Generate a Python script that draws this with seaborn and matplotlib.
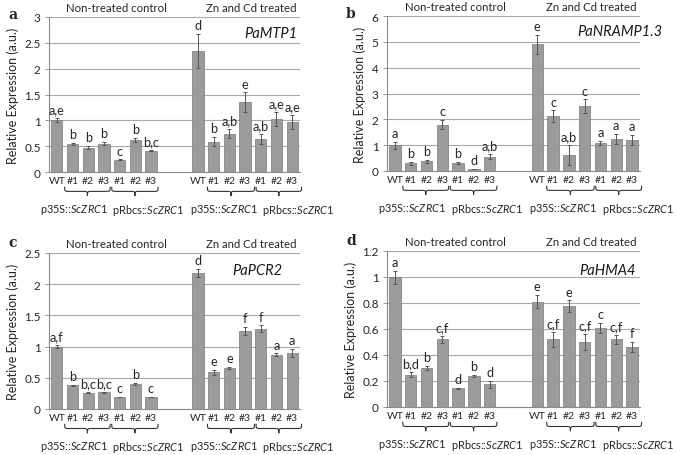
import numpy as np
import pandas as pd
import matplotlib
matplotlib.use("Agg")
import matplotlib.pyplot as plt
import matplotlib.transforms as mtransforms
from matplotlib.path import Path
from matplotlib.patches import PathPatch
import seaborn as sns

# sample keys (two empty slots separate the two treatments)
ctrl_keys = ["ctrl WT", "ctrl 35S #1", "ctrl 35S #2", "ctrl 35S #3",
             "ctrl Rbcs #1", "ctrl Rbcs #2", "ctrl Rbcs #3"]
trt_keys = ["trt WT", "trt 35S #1", "trt 35S #2", "trt 35S #3",
            "trt Rbcs #1", "trt Rbcs #2", "trt Rbcs #3"]
order = ctrl_keys + ["gap 1", "gap 2"] + trt_keys
line_labels = ["WT", "#1", "#2", "#3", "#1", "#2", "#3"]
tick_labels = line_labels + ["", ""] + line_labels
group_labels = [r"p35S::$\it{ScZRC1}$", r"pRbcs::$\it{ScZRC1}$",
                r"p35S::$\it{ScZRC1}$", r"pRbcs::$\it{ScZRC1}$"]

# panel a - PaMTP1
mtp1_mean = [1.0, 0.55, 0.47, 0.55, 0.24, 0.62, 0.41,
             2.35, 0.59, 0.74, 1.35, 0.64, 1.03, 0.97]
mtp1_err = [0.04, 0.02, 0.03, 0.03, 0.005, 0.04, 0.01,
            0.33, 0.09, 0.09, 0.19, 0.09, 0.14, 0.13]
mtp1_letters = ["a,e", "b", "b", "b", "c", "b", "b,c",
                "d", "b", "a,b", "e", "a,b", "a,e", "a,e"]

# panel b - PaNRAMP1.3
nramp_mean = [1.0, 0.3, 0.38, 1.8, 0.32, 0.08, 0.55,
              4.9, 2.12, 0.62, 2.5, 1.08, 1.23, 1.2]
nramp_err = [0.13, 0.05, 0.06, 0.18, 0.03, 0.01, 0.1,
             0.38, 0.23, 0.37, 0.27, 0.08, 0.2, 0.2]
nramp_letters = ["a", "b", "b", "c", "b", "d", "a,b",
                 "e", "c", "a,b", "c", "a", "a", "a"]

# panel c - PaPCR2
pcr2_mean = [1.0, 0.38, 0.26, 0.27, 0.19, 0.40, 0.19,
             2.18, 0.59, 0.66, 1.25, 1.29, 0.87, 0.9]
pcr2_err = [0.03, 0.01, 0.01, 0.01, 0.005, 0.02, 0.005,
            0.06, 0.04, 0.02, 0.06, 0.05, 0.02, 0.06]
pcr2_letters = ["a,f", "b", "b,c", "b,c", "c", "b", "c",
                "d", "e", "e", "f", "f", "a", "a"]

# panel d - PaHMA4
hma4_mean = [1.0, 0.25, 0.30, 0.52, 0.145, 0.24, 0.175,
             0.81, 0.52, 0.775, 0.50, 0.61, 0.52, 0.46]
hma4_err = [0.05, 0.02, 0.015, 0.025, 0.005, 0.01, 0.025,
            0.05, 0.06, 0.045, 0.06, 0.04, 0.035, 0.04]
hma4_letters = ["a", "b,d", "b", "c,f", "d", "b", "d",
                "e", "c,f", "e", "c,f", "c", "c,f", "f"]

sns.set_style("white")
plt.rcParams["font.family"] = ["Lato", "DejaVu Sans"]
plt.rcParams["mathtext.fontset"] = "custom"
plt.rcParams["mathtext.rm"] = "Lato"
plt.rcParams["mathtext.it"] = "Lato:italic"

bar_color = "#9b9b9b"
edge_color = "#7a7a7a"
text_color = "#262626"

fig = plt.figure(figsize=(6.76, 4.56), dpi=100)


def brace(ax, x0, x1, y_top=-0.095, y_bot=-0.155):
    trans = mtransforms.blended_transform_factory(ax.transData, ax.transAxes)
    xm = (x0 + x1) / 2
    ym = (y_top + y_bot) / 2
    r = 0.3
    verts = [(x0, y_top), (x0, ym), (x0, ym), (x0 + r, ym),
             (xm - r, ym), (xm, ym), (xm, ym), (xm, y_bot),
             (xm, ym), (xm, ym), (xm + r, ym),
             (x1 - r, ym), (x1, ym), (x1, ym), (x1, y_top)]
    codes = [Path.MOVETO, Path.CURVE4, Path.CURVE4, Path.CURVE4,
             Path.LINETO, Path.CURVE4, Path.CURVE4, Path.CURVE4,
             Path.CURVE4, Path.CURVE4, Path.CURVE4,
             Path.LINETO, Path.CURVE4, Path.CURVE4, Path.CURVE4]
    ax.add_patch(PathPatch(Path(verts, codes), transform=trans, fill=False,
                           edgecolor="#333333", lw=0.8, clip_on=False))


def panel(rect, mean, err, letters, ymax, ystep, gene, gene_pos, tag, tag_pos):
    ax = fig.add_axes(rect)
    keys = ctrl_keys + trt_keys
    df = pd.DataFrame({"sample": keys, "expr": mean})
    sns.barplot(data=df, x="sample", y="expr", order=order, color=bar_color,
                saturation=1, width=0.72, errorbar=None, edgecolor=edge_color,
                linewidth=0.5, ax=ax, zorder=3)
    xpos = [order.index(k) for k in keys]
    ax.errorbar(xpos, mean, yerr=err, fmt="none", ecolor="#555555",
                elinewidth=0.7, capsize=1.6, capthick=0.7, zorder=4)
    for x, m, e, lab in zip(xpos, mean, err, letters):
        ax.annotate(lab, (x, m + e), xytext=(0, 2), textcoords="offset points",
                    ha="center", va="bottom", fontsize=9.2, color=text_color)
    ax.set_xlim(-0.5, 15.5)
    ax.set_ylim(0, ymax)
    ticks = np.arange(0, ymax + ystep / 2, ystep)
    ax.set_yticks(ticks)
    ax.set_yticklabels([f"{t:g}" for t in ticks], fontsize=8.5, color=text_color)
    ax.set_xticks(range(len(order)))
    ax.set_xticklabels(tick_labels, fontsize=7.5, color=text_color)
    ax.tick_params(axis="x", length=0, pad=3)
    ax.tick_params(axis="y", length=3, width=0.6, color="#888888", pad=3,
                   left=True)
    ax.yaxis.grid(True, color="#a8a8a8", lw=0.8, zorder=0)
    ax.set_axisbelow(True)
    for s in ["top", "right"]:
        ax.spines[s].set_visible(False)
    for s in ["left", "bottom"]:
        ax.spines[s].set_color("#8a8a8a")
        ax.spines[s].set_linewidth(0.8)
    ax.set_xlabel("")
    ax.set_ylabel("Relative Expression (a.u.)", fontsize=9, color=text_color,
                  labelpad=4)

    # braces and construct labels
    for x0, x1 in [(0.5, 3.4), (3.5, 6.45), (9.6, 12.6), (12.7, 15.6)]:
        brace(ax, x0, x1)
    trans = mtransforms.blended_transform_factory(ax.transData, ax.transAxes)
    for xc, lab in zip([1.1, 5.85, 10.65, 15.4], group_labels):
        ax.text(xc, -0.24, lab, transform=trans, ha="center", va="center",
                fontsize=7.9, color=text_color, clip_on=False)
    ax.text(3.8, 1.06, "Non-treated control", transform=trans, ha="center",
            va="center", fontsize=8.2, color=text_color)
    ax.text(12.4, 1.06, "Zn and Cd treated", transform=trans, ha="center",
            va="center", fontsize=8.2, color=text_color)
    ax.text(gene_pos[0], gene_pos[1], gene, transform=ax.transAxes, ha="right",
            va="center", fontsize=10.5, style="italic", color="#1a1a1a")
    fig.text(tag_pos[0] / 676, 1 - tag_pos[1] / 456, tag, fontsize=10,
             fontweight="bold", family="DejaVu Serif", ha="center",
             va="center")
    return ax


panel([49 / 676, 1 - 173 / 456, 251 / 676, 155 / 456], mtp1_mean, mtp1_err,
      mtp1_letters, 3, 0.5, "PaMTP1", (0.99, 0.9), "a", (13, 15))
panel([387 / 676, 1 - 172 / 456, 253 / 676, 155 / 456], nramp_mean, nramp_err,
      nramp_letters, 6, 1, "PaNRAMP1.3", (1.09, 0.9), "b", (351, 14))
panel([49 / 676, 1 - 410 / 456, 251 / 676, 156 / 456], pcr2_mean, pcr2_err,
      pcr2_letters, 2.5, 0.5, "PaPCR2", (0.93, 0.89), "c", (13, 243))
panel([387 / 676, 1 - 408 / 456, 253 / 676, 156 / 456], hma4_mean, hma4_err,
      hma4_letters, 1.2, 0.2, "PaHMA4", (0.985, 0.88), "d", (351, 241))

fig.savefig("out.png", dpi=100, facecolor="white")
